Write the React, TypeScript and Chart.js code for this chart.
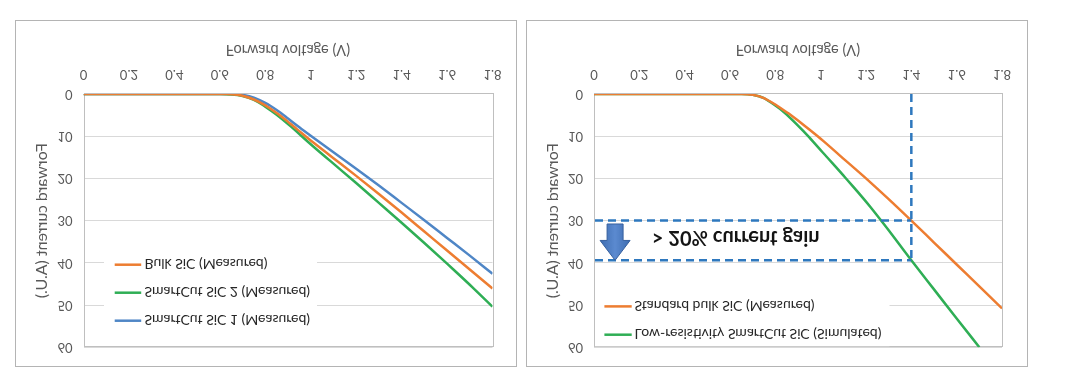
import React, { useEffect, useRef } from "react";
import { Chart, registerables } from "chart.js";

Chart.register(...registerables);

// ---------- data ----------
const X_TICK_LABELS = ["0", "0.2", "0.4", "0.6", "0.8", "1", "1.2", "1.4", "1.6", "1.8"];
const Y_TICK_LABELS = ["0", "10", "20", "30", "40", "50", "60"];
const X_AXIS_TITLE = "Forward voltage (V)";
const Y_AXIS_TITLE = "Forward current (A.U.)";

// left panel
const LEFT_VOLTAGE = [0, 0.2, 0.4, 0.6, 0.65, 0.7, 0.75, 0.8, 0.85, 0.9, 0.95, 1.0, 1.1, 1.2, 1.3, 1.4, 1.5, 1.6, 1.7, 1.8];
const BULK_SIC = [0, 0, 0, 0, 0.05, 0.4, 1.3, 2.7, 4.5, 6.6, 8.8, 11.0, 15.2, 19.4, 23.7, 28.1, 32.6, 37.1, 41.6, 46.1];
const SMARTCUT_SIC_2 = [0, 0, 0, 0, 0.1, 0.5, 1.4, 3.0, 4.9, 7.1, 9.5, 11.9, 16.5, 21.1, 25.8, 30.5, 35.3, 40.2, 45.2, 50.4];
const SMARTCUT_SIC_1 = [0, 0, 0, 0, 0, 0.2, 0.9, 2.1, 3.8, 5.8, 7.9, 9.9, 13.8, 17.7, 21.7, 25.8, 29.9, 34.1, 38.3, 42.6];
const LEFT_LABELS = ["Bulk SiC (Measured)", "SmartCut SiC 2 (Measured)", "SmartCut SiC 1 (Measured)"];

// right panel
const RIGHT_VOLTAGE = [0, 0.2, 0.4, 0.6, 0.65, 0.7, 0.75, 0.8, 0.85, 0.9, 0.95, 1.0, 1.1, 1.2, 1.3, 1.4, 1.5, 1.6, 1.7, 1.8];
const STANDARD_BULK_SIC = [0, 0, 0, 0, 0, 0.2, 1.0, 2.5, 4.3, 6.3, 8.4, 10.6, 15.3, 20.0, 24.9, 30.0, 35.2, 40.4, 45.6, 50.8];
const LOWRES_VOLTAGE = [0, 0.2, 0.4, 0.6, 0.65, 0.7, 0.75, 0.8, 0.85, 0.9, 0.95, 1.0, 1.1, 1.2, 1.3, 1.4, 1.5, 1.6, 1.7];
const LOWRES_SMARTCUT_SIC = [0, 0, 0, 0, 0, 0.2, 1.0, 2.7, 4.9, 7.5, 10.3, 13.3, 19.3, 25.5, 32.3, 39.4, 46.3, 53.2, 60.0];
const RIGHT_LABELS = ["Standard bulk SiC (Measured)", "Low-resistivity SmartCut SiC (Simulated)"];

// annotation on right panel
const GAIN_VOLTAGE = 1.4;
const GAIN_LEVELS = [30, 39.4];
const GAIN_ARROW = { x: 0.093, from: 30.8, headBase: 34.7, to: 39.4 };
const GAIN_TEXT = "> 20% current gain";
const GAIN_TEXT_POS = { x: 0.625, y: 34.0 };

// ---------- styles ----------
const ORANGE = "#ed7d31";
const GREEN = "#2fae55";
const BLUE = "#4f86c6";
const DASH_BLUE = "#2e78be";
const FONT = "Lato, 'Open Sans', sans-serif";
const AXIS_COLOR = "#595959";

Chart.defaults.font.family = FONT;

type Row = { label: string; color: string };

function makeFramePlugin() {
  return {
    id: "frame",
    beforeDatasetsDraw(chart: any) {
      const { ctx, chartArea: a } = chart;
      ctx.save();
      ctx.strokeStyle = "#bfbfbf";
      ctx.lineWidth = 1;
      ctx.strokeRect(Math.round(a.left) + 0.5, Math.round(a.top) + 0.5, Math.round(a.right - a.left), Math.round(a.bottom - a.top));
      ctx.restore();
    },
  };
}

function makeLegendPlugin(rows: Row[], box: { x0: number; y0: number; x1: number; y1: number }, first: number, gap: number, lineX0: number, lineX1: number, textX: number) {
  return {
    id: "inlineLegend",
    afterDatasetsDraw(chart: any) {
      const { ctx, chartArea: a } = chart;
      ctx.save();
      ctx.fillStyle = "#ffffff";
      ctx.fillRect(a.left + box.x0, a.top + box.y0, box.x1 - box.x0, box.y1 - box.y0);
      rows.forEach((r, i) => {
        const y = a.top + first + i * gap;
        ctx.strokeStyle = r.color;
        ctx.lineWidth = 2.5;
        ctx.beginPath();
        ctx.moveTo(a.left + lineX0, y);
        ctx.lineTo(a.left + lineX1, y);
        ctx.stroke();
        ctx.fillStyle = "#262626";
        ctx.font = `14px ${FONT}`;
        ctx.textAlign = "left";
        ctx.textBaseline = "middle";
        ctx.fillText(r.label, a.left + textX, y + 1);
      });
      ctx.restore();
    },
  };
}

function makeGainPlugin() {
  return {
    id: "gain",
    afterDatasetsDraw(chart: any) {
      const { ctx } = chart;
      const xs = chart.scales.x;
      const ys = chart.scales.y;
      ctx.save();
      ctx.strokeStyle = DASH_BLUE;
      ctx.lineWidth = 2.5;
      ctx.setLineDash([8, 5]);
      const xv = xs.getPixelForValue(GAIN_VOLTAGE);
      const x0 = xs.getPixelForValue(0);
      ctx.beginPath();
      ctx.moveTo(xv, ys.getPixelForValue(0));
      ctx.lineTo(xv, ys.getPixelForValue(GAIN_LEVELS[1]));
      GAIN_LEVELS.forEach((lv) => {
        const y = ys.getPixelForValue(lv);
        ctx.moveTo(x0 + 1, y);
        ctx.lineTo(xv, y);
      });
      ctx.stroke();
      ctx.setLineDash([]);

      // arrow
      const cx = xs.getPixelForValue(GAIN_ARROW.x);
      const yFrom = ys.getPixelForValue(GAIN_ARROW.from);
      const yBase = ys.getPixelForValue(GAIN_ARROW.headBase);
      const yTo = ys.getPixelForValue(GAIN_ARROW.to);
      const sw = 8;
      const hw = 15;
      const grad = ctx.createLinearGradient(cx - hw, 0, cx + hw, 0);
      grad.addColorStop(0, "#3d6cb0");
      grad.addColorStop(0.5, "#5b8ad0");
      grad.addColorStop(1, "#3d6cb0");
      ctx.fillStyle = grad;
      ctx.strokeStyle = "#36609e";
      ctx.lineWidth = 1;
      ctx.beginPath();
      ctx.moveTo(cx - sw, yFrom);
      ctx.lineTo(cx + sw, yFrom);
      ctx.lineTo(cx + sw, yBase);
      ctx.lineTo(cx + hw, yBase);
      ctx.lineTo(cx, yTo);
      ctx.lineTo(cx - hw, yBase);
      ctx.lineTo(cx - sw, yBase);
      ctx.closePath();
      ctx.fill();
      ctx.stroke();

      // text
      ctx.fillStyle = "#141414";
      ctx.font = `bold 20px ${FONT}`;
      ctx.textAlign = "center";
      ctx.textBaseline = "middle";
      ctx.fillText(GAIN_TEXT, xs.getPixelForValue(GAIN_TEXT_POS.x), ys.getPixelForValue(GAIN_TEXT_POS.y));
      ctx.restore();
    },
  };
}

function baseScales(yWidth: number) {
  return {
    x: {
      type: "linear",
      min: 0,
      max: 1.8,
      ticks: {
        stepSize: 0.2,
        autoSkip: false,
        maxRotation: 0,
        padding: 12,
        color: AXIS_COLOR,
        font: { size: 13 },
        callback: (_v: any, i: number) => X_TICK_LABELS[i],
      },
      grid: { display: false, drawTicks: false, tickLength: 0 },
      border: { display: false },
      title: {
        display: true,
        text: X_AXIS_TITLE,
        color: AXIS_COLOR,
        font: { size: 14.5 },
        padding: { top: 4, bottom: 20 },
      },
      afterFit: (s: any) => {
        s.height = 73;
      },
    },
    y: {
      type: "linear",
      min: 0,
      max: 60,
      ticks: {
        stepSize: 10,
        padding: 11,
        color: AXIS_COLOR,
        font: { size: 13 },
        callback: (_v: any, i: number) => Y_TICK_LABELS[i],
      },
      grid: { color: "#d9d9d9", lineWidth: 1, drawTicks: false, tickLength: 0 },
      border: { display: false },
      title: {
        display: true,
        text: Y_AXIS_TITLE,
        color: AXIS_COLOR,
        font: { size: 16 },
        padding: { top: 16, bottom: 0 },
      },
      afterFit: (s: any) => {
        s.width = yWidth;
      },
    },
  };
}

function line(xs: number[], ys: number[], color: string, label: string, order: number) {
  return {
    label,
    data: xs.map((x, i) => ({ x, y: ys[i] })),
    borderColor: color,
    backgroundColor: color,
    borderWidth: 2.5,
    pointRadius: 0,
    cubicInterpolationMode: "monotone",
    fill: false,
    order,
  };
}

function LeftChart() {
  const ref = useRef<HTMLCanvasElement>(null);
  useEffect(() => {
    const chart = new Chart(ref.current as HTMLCanvasElement, {
      type: "line",
      data: {
        datasets: [
          line(LEFT_VOLTAGE, BULK_SIC, ORANGE, LEFT_LABELS[0], 0),
          line(LEFT_VOLTAGE, SMARTCUT_SIC_2, GREEN, LEFT_LABELS[1], 1),
          line(LEFT_VOLTAGE, SMARTCUT_SIC_1, BLUE, LEFT_LABELS[2], 2),
        ] as any,
      },
      options: {
        responsive: false,
        animation: false,
        layout: { padding: { top: 16.7, right: 23.5, bottom: 0, left: 0 } },
        plugins: { legend: { display: false }, tooltip: { enabled: false } },
        scales: baseScales(67.5) as any,
      },
      plugins: [
        makeFramePlugin(),
        makeLegendPlugin(
          [
            { label: LEFT_LABELS[2], color: BLUE },
            { label: LEFT_LABELS[1], color: GREEN },
            { label: LEFT_LABELS[0], color: ORANGE },
          ],
          { x0: 20.5, y0: 13, x1: 233.5, y1: 97 },
          26.5,
          28,
          31.2,
          57.7,
          61
        ),
      ],
    });
    return () => chart.destroy();
  }, []);
  return <canvas ref={ref} width={500} height={345} style={{ display: "block" }} />;
}

function RightChart() {
  const ref = useRef<HTMLCanvasElement>(null);
  useEffect(() => {
    const chart = new Chart(ref.current as HTMLCanvasElement, {
      type: "line",
      data: {
        datasets: [
          line(RIGHT_VOLTAGE, STANDARD_BULK_SIC, ORANGE, RIGHT_LABELS[0], 0),
          line(LOWRES_VOLTAGE, LOWRES_SMARTCUT_SIC, GREEN, RIGHT_LABELS[1], 1),
        ] as any,
      },
      options: {
        responsive: false,
        animation: false,
        layout: { padding: { top: 16.7, right: 25, bottom: 0, left: 0 } },
        plugins: { legend: { display: false }, tooltip: { enabled: false } },
        scales: baseScales(67) as any,
      },
      plugins: [
        makeFramePlugin(),
        makeLegendPlugin(
          [
            { label: RIGHT_LABELS[1], color: GREEN },
            { label: RIGHT_LABELS[0], color: ORANGE },
          ],
          { x0: 1, y0: 1, x1: 295.5, y1: 56 },
          12.5,
          28.3,
          10.4,
          37.7,
          40.5
        ),
        makeGainPlugin(),
      ],
    });
    return () => chart.destroy();
  }, []);
  return <canvas ref={ref} width={500} height={345} style={{ display: "block" }} />;
}

const panelStyle = (left: number): React.CSSProperties => ({
  position: "absolute",
  left,
  top: 12,
  width: 502,
  height: 347,
  border: "1px solid #b4b4b4",
  boxSizing: "border-box",
  background: "#fff",
});

export default function App() {
  return (
    <div
      style={{
        position: "absolute",
        left: 0,
        top: 0,
        width: 1080,
        height: 379,
        background: "#fff",
        transform: "scaleY(-1)",
        overflow: "hidden",
      }}
    >
      <div style={panelStyle(15)}>
        <LeftChart />
      </div>
      <div style={panelStyle(526)}>
        <RightChart />
      </div>
    </div>
  );
}
